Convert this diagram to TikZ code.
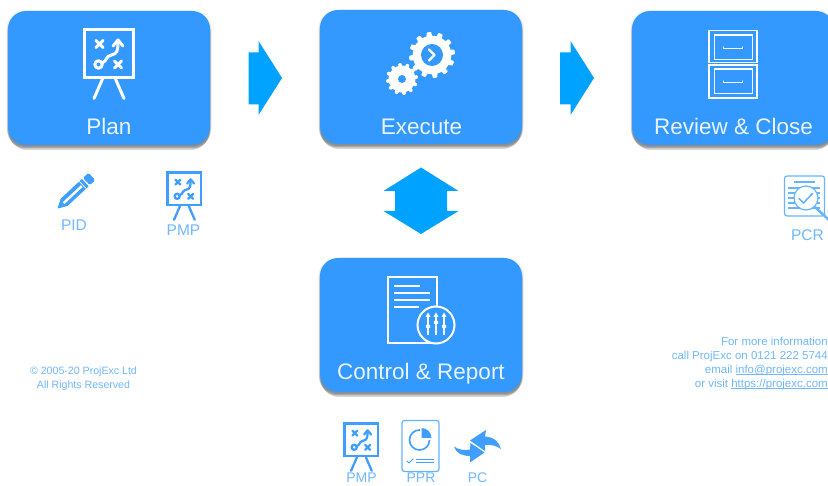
\documentclass[tikz,border=0pt]{standalone}
\usepackage{fontspec}
\setmainfont{Liberation Sans}
\definecolor{boxblue}{HTML}{3399FF}
\definecolor{arrowblue}{HTML}{00A2FF}
\definecolor{iconblue}{HTML}{3F9EFF}
\definecolor{paleblue}{HTML}{66B3FF}
\definecolor{faintblue}{HTML}{70B8FF}
\definecolor{softwhite}{HTML}{EAF4FF}
\tikzset{
  stagelabel/.style={text=softwhite,anchor=base,inner sep=0pt,font=\fontsize{22.5}{24}\selectfont},
  doclabel/.style={text=faintblue,anchor=base,inner sep=0pt,font=\fontsize{15.5}{17}\selectfont},
  lowlabel/.style={text=faintblue,anchor=base,inner sep=0pt,font=\fontsize{14}{15}\selectfont},
  infoline/.style={text=faintblue,anchor=base east,inner sep=0pt,font=\fontsize{11.5}{13}\selectfont},
  copyline/.style={text=faintblue,anchor=base,inner sep=0pt,font=\fontsize{10.6}{13}\selectfont},
  blockarrow/.style={fill=arrowblue,draw=none},
}
\newcommand{\linkul}[1]{\setbox0=\hbox{#1}\rlap{\raisebox{-1.4pt}{\rule{\wd0}{.5pt}}}#1}
% rounded stage box with soft shadow: name, left, top
\newcommand{\stagebox}[3]{%
  \foreach \o/\e/\a in {-1/1.5/.03,1/1.5/.05,3/1/.07,2/.5/.10,3.5/.3/.16,5/-1/.16}{%
    \fill[black,opacity=\a,rounded corners=18pt] (#2-\e,#3+\o) rectangle (#2+202+\e,#3+134+\o);
  }%
  \fill[boxblue,rounded corners=18pt] (#2,#3) rectangle (#2+202,#3+134);
  \coordinate (#1) at (#2+101,#3+67);
}
% presentation board icon
\newcommand{\boardicon}[5]{%
  \begin{scope}[shift={(#1,#2)},scale=#3,draw=#4,line cap=round,line join=round,line width=#5]
    \draw[line cap=butt,line join=miter] (0,0) rectangle (49,47.5);
    \draw (18,49) -- (9.5,68.5);
    \draw (31,49) -- (39.5,68.5);
    \draw (11.5,10.5) -- (18.5,17.5) (18.5,10.5) -- (11.5,17.5);
    \draw (30,31) -- (37,38) (37,31) -- (30,38);
    \draw (14,34.5) circle (3.7);
    \draw (17.5,33) .. controls (23,31) and (21,26) .. (27,25) .. controls (33,24) and (33.5,20) .. (33.5,11);
    \draw (28.5,16) -- (33.5,10) -- (38.5,16);
  \end{scope}%
}
\newcommand{\geartooth}[3]{% cx cy R
  \foreach \i in {0,30,...,330}{%
    \begin{scope}[shift={(#1,#2)},rotate=\i+8]
      \fill[white,rounded corners=.8pt] (#3*.7,-#3*.13) -- (#3,-#3*.1) -- (#3,#3*.1) -- (#3*.7,#3*.13) -- cycle;
    \end{scope}%
  }%
  \fill[white] (#1,#2) circle ({#3*.84});
}
\begin{document}
\begin{tikzpicture}[x=1pt,y=-1pt]
\useasboundingbox (0,0) rectangle (828,486);
\clip (0,0) rectangle (828,486);
\fill[white] (0,0) rectangle (828,486);

% stage boxes
\stagebox{planbox}{8}{11}
\stagebox{execbox}{320}{10}
\stagebox{reviewbox}{632}{11}
\stagebox{ctrlbox}{320}{258}

% stage labels
\node[stagelabel] (plantext) at (109,135) {Plan};
\node[stagelabel] (exectext) at (421.5,135) {Execute};
\node[stagelabel] (reviewtext) at (733.5,135) {Review \& Close};
\node[stagelabel] (ctrltext) at (421,380) {Control \& Report};

% block arrows
\fill[blockarrow] (248.5,52.5) -- (258.5,52.5) -- (258.5,41) -- (282,78) -- (258.5,115) -- (258.5,104.5) -- (248.5,104.5) -- cycle;
\fill[blockarrow] (560,52.5) -- (570.5,52.5) -- (570.5,41) -- (594,78) -- (570.5,115) -- (570.5,104.5) -- (560,104.5) -- cycle;
\fill[blockarrow] (421,167.5) -- (458.5,191) -- (447,191) -- (447,211) -- (458.5,211) -- (421,234) -- (383.5,211) -- (395,211) -- (395,191) -- (383.5,191) -- cycle;

% board icons
\boardicon{84.5}{30}{1}{white}{3pt}
\boardicon{167.5}{172.5}{.69}{iconblue}{2.3pt}
\boardicon{344.5}{423.5}{.69}{iconblue}{2.3pt}

% gears
\geartooth{432}{55}{23}
\fill[boxblue] (432,55) circle (11);
\draw[white,line width=2.2pt,line cap=round,line join=round] (429,49.5) -- (434.5,55) -- (429,60.5);
\geartooth{402}{79}{16}
\fill[boxblue] (402,79) circle (4);

% filing cabinet
\begin{scope}[draw=white,line width=1.1pt]
  \draw (709,30.5) rectangle (757,62.5);
  \draw (709,65) rectangle (757,98);
  \draw (714.5,35) rectangle (752.5,59.5);
  \draw (714.5,69) rectangle (752.5,93.5);
  \draw[line cap=round,line width=1.4pt] (723.5,47) -- (723.5,48.5) -- (742.5,48.5) -- (742.5,47);
  \draw[line cap=round,line width=1.4pt] (723.5,81) -- (723.5,82.5) -- (742.5,82.5) -- (742.5,81);
\end{scope}

% control document
\begin{scope}[draw=white,line width=2pt]
  \draw (431,343) -- (387.5,343) -- (387.5,277.5) -- (437,277.5) -- (437,306);
  \draw (394,286) -- (420,286) (394,293.5) -- (430,293.5) (394,300.5) -- (430,300.5) (394,307.5) -- (419,307.5);
  \draw (436,325) circle (18.5);
  \begin{scope}[line width=1.8pt]
    \draw (428,317) -- (428,335) (436,317) -- (436,335) (444,317) -- (444,335);
  \end{scope}
  \fill[white] (425.5,317) -- (428,312.5) -- (430.5,317) -- cycle (433.5,317) -- (436,312.5) -- (438.5,317) -- cycle (441.5,317) -- (444,312.5) -- (446.5,317) -- cycle;
  \fill[white] (426,325) rectangle (430,328) (434,321) rectangle (438,324) (442,325) rectangle (446,328);
\end{scope}

% pencil
\begin{scope}[shift={(57.5,208.5)},rotate=43]
  \fill[iconblue,line join=round] (0,0) -- (9,-5) -- (34,-5) -- (34,5) -- (9,5) -- cycle;
  \fill[white] (8,-1) -- (33,-1) -- (33,1.4) -- (8,1.4) -- cycle;
  \fill[iconblue] (35,-5) rectangle (38,5);
  \fill[iconblue,rounded corners=1.5pt] (39.5,-5) rectangle (47,5);
\end{scope}

% PCR report with magnifier
\begin{scope}[draw=paleblue,line width=1.2pt]
  \draw[rounded corners=2.5pt] (784.5,176) rectangle (824.5,216);
  \draw (794,182) -- (815,182);
  \foreach \y in {188,193,198,203,208}{\draw (788,\y) -- (820,\y);}
  \fill[white] (806,198) circle (12);
  \draw (806,198) circle (12);
  \draw[line width=1.6pt,line cap=round,line join=round] (799,198.5) -- (803.5,203) -- (812.5,193.5);
  \draw[line width=2.4pt] (815,207) -- (830,221);
\end{scope}

% PPR report
\draw[paleblue,line width=1.2pt,rounded corners=2.5pt] (402,420.5) rectangle (439,471.5);
\draw[iconblue,line width=1.6pt] (419.5,440) circle (10);
\fill[white] (419.5,428) rectangle (432,440);
\fill[iconblue] (421.5,428) .. controls (427,428) and (431.5,432.5) .. (431.5,438) -- (421.5,438) -- cycle;
\draw[iconblue,line width=1pt,line cap=round] (407,461) -- (409,463) -- (413,459);
\draw[iconblue,line width=.8pt] (416,459.5) -- (434,459.5) (416,462.5) -- (434,462.5);

% PC exchange arrows
\fill[iconblue] (470,440.5) -- (486,430) -- (485,436.5) .. controls (494,437) and (499,442) .. (501,449) .. controls (496,445.5) and (491,444.5) .. (485,445) -- (485,451) -- cycle;
\fill[iconblue] (484.5,452.5) -- (470,462.5) -- (470,456) .. controls (462,456) and (456,453) .. (454,446.5) .. controls (459,450) and (464,450.5) .. (470,449.5) -- (470.5,443) -- cycle;

% document labels
\node[doclabel] (pidtext) at (74,231) {PID};
\node[doclabel] (pmpatext) at (183.5,236) {PMP};
\node[doclabel] (pcrtext) at (807.5,241) {PCR};
\node[lowlabel] (pmpbtext) at (361.5,482.5) {PMP};
\node[lowlabel] (pprtext) at (421,482.5) {PPR};
\node[lowlabel] (pctext) at (477.5,482.5) {PC};

% copyright and contact text
\node[copyline] (copya) at (83.5,375) {© 2005-20 ProjExc Ltd};
\node[copyline] (copyb) at (83.5,389) {All Rights Reserved};
\node[infoline] (infoa) at (828,346) {For more information};
\node[infoline] (infob) at (828,360) {call ProjExc on 0121 222 5744};
\node[infoline] (infoc) at (828,373.5) {email \linkul{info@projexc.com}};
\node[infoline] (infod) at (828,387.5) {or visit \linkul{https://projexc.com}};
\end{tikzpicture}
\end{document}
